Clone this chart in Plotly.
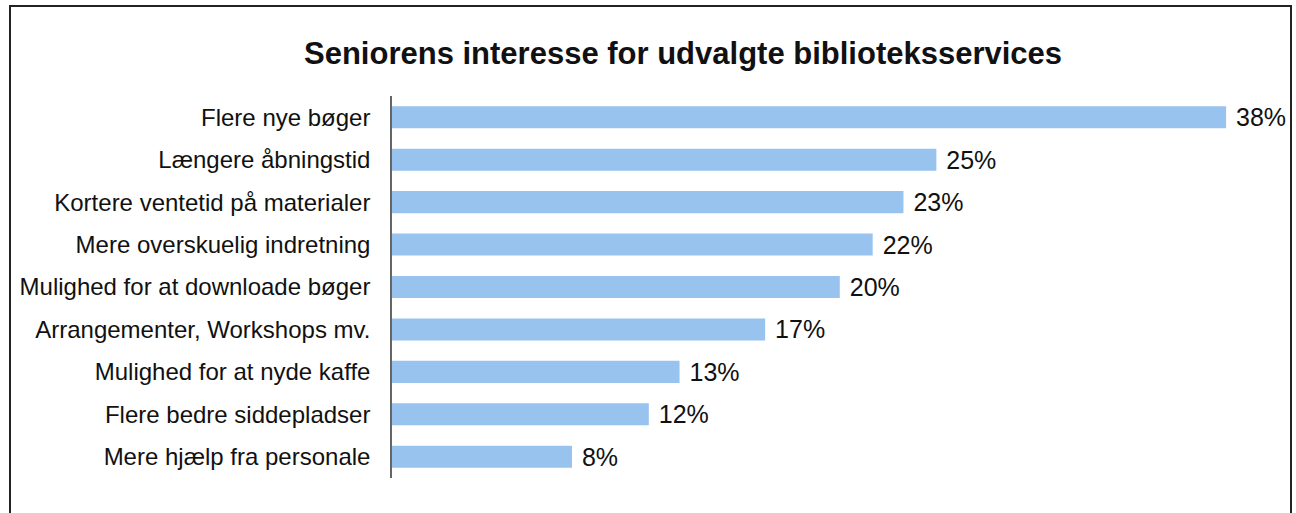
import plotly.graph_objects as go

categories = [
    "Flere nye bøger",
    "Længere åbningstid",
    "Kortere ventetid på materialer",
    "Mere overskuelig indretning",
    "Mulighed for at downloade bøger",
    "Arrangementer, Workshops mv.",
    "Mulighed for at nyde kaffe",
    "Flere bedre siddepladser",
    "Mere hjælp fra personale",
]
values = [38.0, 24.8, 23.3, 21.9, 20.4, 17.0, 13.1, 11.7, 8.2]
labels = ["38%", "25%", "23%", "22%", "20%", "17%", "13%", "12%", "8%"]
title = "Seniorens interesse for udvalgte biblioteksservices"

W, H = 1296, 513
L, R, T, B = 392, 26, 96, 35
pw, ph = W - L - R, H - T - B

def px(x):
    return (x - L) / pw

def py(y):
    return (H - B - y) / ph

fig = go.Figure(go.Bar(
    x=values, y=categories, orientation="h",
    marker=dict(color="#98c3ef", line=dict(width=0)),
    width=0.52,
    text=["\u00a0" + s for s in labels], textposition="outside", cliponaxis=False,
    constraintext="none",
    textfont=dict(size=25, color="#111111", family="Liberation Sans, Arial"),
    hoverinfo="skip",
))

fig.update_layout(
    width=W, height=H,
    margin=dict(l=L, r=R, t=T, b=B, pad=0),
    paper_bgcolor="white", plot_bgcolor="white",
    font=dict(family="Liberation Sans, Arial", color="#111111"),
    showlegend=False,
    xaxis=dict(range=[0, 40], visible=False, fixedrange=True),
    yaxis=dict(autorange=False, range=[8.5, -0.5], showline=True, linecolor="#666666",
               linewidth=1.5, ticks="", showgrid=False, fixedrange=True,
               tickfont=dict(size=24, color="#111111"), ticklabelstandoff=15),
    shapes=[dict(type="rect", xref="paper", yref="paper",
                 x0=px(10), x1=px(1291), y0=py(530), y1=py(6),
                 line=dict(color="#222222", width=2), fillcolor="rgba(0,0,0,0)", layer="below")],
    annotations=[
        dict(text="<b>" + title + "</b>", xref="paper", yref="paper",
             x=px(683), y=py(54), xanchor="center", yanchor="middle",
             showarrow=False, font=dict(size=31, color="#111111")),
    ],
)

fig.write_html("out.html", config={"displayModeBar": False},
               post_script="document.body.style.margin='0';")
